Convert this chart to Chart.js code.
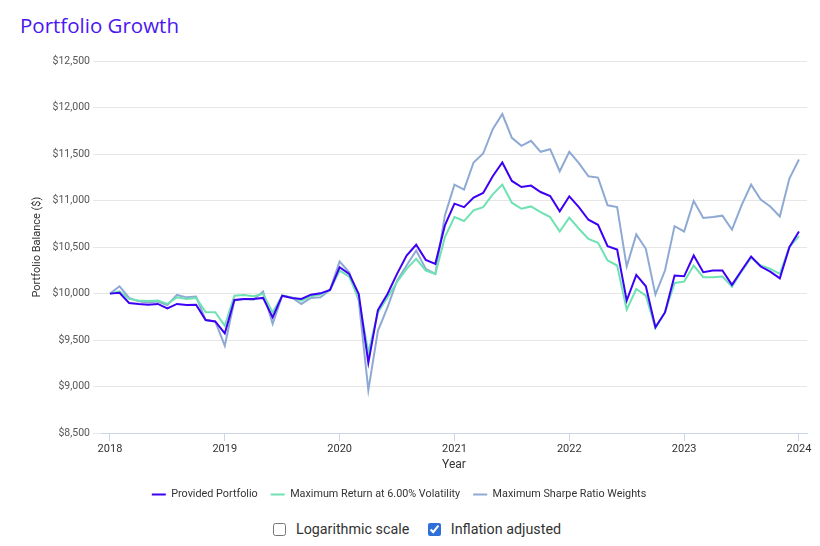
<!DOCTYPE html>
<html>
<head>
<meta charset="utf-8">
<script src="https://cdn.jsdelivr.net/npm/chart.js@4.4.1/dist/chart.umd.min.js"></script>
<style>
    html, body { margin: 0; padding: 0; background: #fff; }
    body { width: 820px; height: 546px; position: relative; overflow: hidden; font-family: Roboto, "Open Sans", sans-serif; }
    #title { position: absolute; left: 20px; top: 12px; font-family: "Open Sans", sans-serif; font-size: 20.5px; font-weight: 500; color: #4a16f2; line-height: 26px; }
    #wrap { position: absolute; left: 0; top: 0; width: 820px; height: 514px; }
    #options { position: absolute; left: 7px; width: 820px; top: 521px; text-align: center; font-size: 14.3px; color: #333; }
    #options label { margin: 0 7.5px; }
    #options input { accent-color: #2f6fd8; vertical-align: -2px; margin: 0 10px 0 0; width: 13px; height: 13px; }
</style>
</head>
<body>
<div id="title">Portfolio Growth</div>
<div id="wrap"><canvas id="growth"></canvas></div>
<div id="options">
    <label><input type="checkbox">Logarithmic scale</label>
    <label><input type="checkbox" checked>Inflation adjusted</label>
</div>
<script>
'use strict';

// monthly balances, Jan 2018 .. Jan 2024
const START_YEAR = 2018;
const yearTicks = [2018, 2019, 2020, 2021, 2022, 2023, 2024];

const providedPortfolio = [
    10000, 10010, 9900, 9889, 9881, 9889, 9842, 9889, 9878, 9881, 9716, 9701,
    9572, 9932, 9943, 9943, 9954, 9744, 9978, 9954, 9943, 9989, 10003, 10040,
    10284, 10212, 9996, 9259, 9824, 9996, 10212, 10410, 10525, 10363, 10320, 10733,
    10967, 10930, 11032, 11082, 11261, 11409, 11211, 11146, 11161, 11092, 11049, 10884,
    11046, 10930, 10794, 10740, 10510, 10474, 9925, 10201, 10079, 9638, 9798, 10194,
    10186, 10410, 10230, 10248, 10248, 10094, 10248, 10399, 10291, 10237, 10165, 10500,
    10668
];
const maxReturn = [
    10000, 10025, 9943, 9925, 9921, 9925, 9889, 9960, 9943, 9954, 9803, 9800,
    9655, 9978, 9986, 9971, 9997, 9798, 9978, 9960, 9925, 9971, 9989, 10040,
    10248, 10183, 9943, 9367, 9798, 9960, 10125, 10266, 10374, 10248, 10212, 10607,
    10823, 10780, 10895, 10930, 11067, 11171, 10977, 10912, 10937, 10876, 10822, 10668,
    10816, 10697, 10589, 10546, 10356, 10302, 9827, 10050, 9978, 9630, 9798, 10115,
    10129, 10302, 10176, 10176, 10183, 10075, 10237, 10385, 10302, 10266, 10212, 10500,
    10618
];
const maxSharpe = [
    10000, 10079, 9954, 9917, 9906, 9914, 9878, 9986, 9960, 9968, 9716, 9701,
    9440, 9925, 9943, 9935, 10022, 9673, 9978, 9960, 9889, 9954, 9960, 10040,
    10345, 10230, 9925, 8962, 9601, 9852, 10140, 10302, 10464, 10266, 10212, 10841,
    11171, 11118, 11409, 11506, 11768, 11930, 11674, 11588, 11642, 11524, 11552, 11315,
    11524, 11402, 11261, 11247, 10949, 10930, 10291, 10636, 10482, 9989, 10248, 10725,
    10668, 10995, 10813, 10823, 10838, 10687, 10949, 11171, 11010, 10937, 10830, 11236,
    11441
];

const seriesNames = [
    "Provided Portfolio",
    "Maximum Return at 6.00% Volatility",
    "Maximum Sharpe Ratio Weights"
];
const seriesColors = ['#3d00f5', '#6fe2b3', '#8eaad4'];

function toPoints(values) {
    return values.map((v, i) => ({ x: START_YEAR + i / 12, y: v }));
}

const moneyFmt = new Intl.NumberFormat('en-US');

// nudges the legend left so it sits where the reference has it
const legendShift = {
    id: 'legendShift',
    afterLayout(chart) {
        const legend = chart.legend;
        if (!legend) return;
        legend.left -= 18;
        legend.right -= 18;
    }
};

const ctx = document.getElementById('growth').getContext('2d');
new Chart(ctx, {
    type: 'line',
    data: {
        datasets: [providedPortfolio, maxReturn, maxSharpe].map((values, k) => ({
            label: seriesNames[k],
            data: toPoints(values),
            borderColor: seriesColors[k],
            backgroundColor: seriesColors[k],
            borderWidth: 2,
            pointRadius: 0,
            tension: 0,
        }))
    },
    options: {
        responsive: true,
        maintainAspectRatio: false,
        animation: false,
        layout: { padding: { top: 61, left: 27, right: 13, bottom: 4 } },
        plugins: {
            tooltip: { enabled: false },
            legend: {
                position: 'bottom',
                labels: {
                    usePointStyle: true,
                    pointStyle: 'line',
                    pointStyleWidth: 14,
                    boxHeight: 11,
                    padding: 13,
                    color: '#333',
                    font: { family: 'Roboto', size: 10.8 }
                }
            }
        },
        scales: {
            x: {
                type: 'linear',
                min: 2017.922,
                max: 2024.07,
                afterBuildTicks: scale => { scale.ticks = yearTicks.map(v => ({ value: v })); },
                afterFit: scale => { scale.height = 43; },
                grid: { drawOnChartArea: false, drawTicks: true, tickLength: 8, color: '#ccd6eb' },
                border: { color: '#ccd6eb' },
                ticks: {
                    padding: 1,
                    color: '#333',
                    font: { family: 'Roboto', size: 11 },
                    maxRotation: 0,
                    callback: v => String(v)
                },
                title: { display: true, text: 'Year', color: '#333', font: { family: 'Roboto', size: 12 }, padding: 4 }
            },
            y: {
                min: 8500,
                max: 12500,
                afterFit: scale => { scale.width = 74; },
                grid: { color: '#e6e6e6', tickLength: 8 },
                border: { display: false },
                ticks: {
                    stepSize: 500,
                    padding: 3,
                    color: '#555',
                    font: { family: 'Roboto', size: 10.5 },
                    callback: v => '$' + moneyFmt.format(v)
                },
                title: { display: true, text: 'Portfolio Balance ($)', color: '#333', font: { family: 'Roboto', size: 11 }, padding: 4 }
            }
        }
    },
    plugins: [legendShift]
});
</script>
</body>
</html>
